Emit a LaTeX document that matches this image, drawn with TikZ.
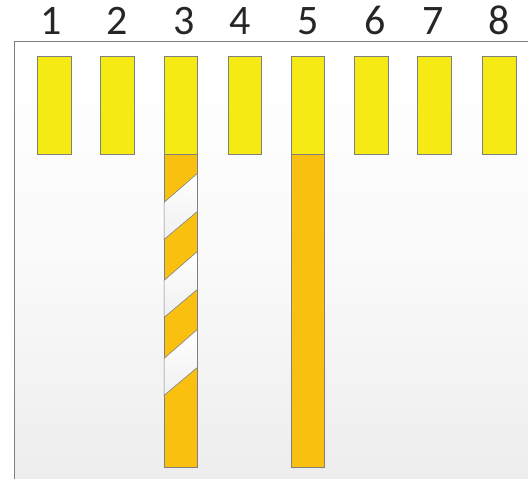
\documentclass[tikz,border=0pt]{standalone}
\usepackage{fontspec}
\usetikzlibrary{positioning,calc}
\newfontfamily\numfont{Carlito}
\definecolor{baryellow}{HTML}{F5EA14}
\definecolor{barorange}{HTML}{FAC010}
\definecolor{edgegray}{HTML}{7F7F7F}

\begin{document}
\begin{tikzpicture}[x=1pt,y=-1pt,
  bar/.style={draw=edgegray,line width=0.8pt,fill=baryellow,minimum width=33.3pt,minimum height=97.7pt,inner sep=0pt,outer sep=0pt},
  longbar/.style={bar,fill=barorange,minimum height=313.3pt},
  num/.style={font=\numfont\fontsize{42}{42}\selectfont,text=black!85,inner sep=0pt},
  stripe/.style={draw=edgegray,line width=0.6pt,top color=white,bottom color=black!6}]
  \useasboundingbox (0,0) rectangle (528,479);
  \fill[top color=white,bottom color=black!7,middle color=black!2] (14,41) rectangle (528,479);
  \draw[edgegray,line width=1pt] (528,41)--(14,41)--(14,479);
  \foreach \i/\x/\dx in {1/54.3/-3,2/117.5/0,3/180.8/3.5,4/245/-4.5,5/308/0,6/371.5/4,7/434.5/-1.5,8/499.5/-0.5}{
    \node[bar] (b\i) at (\x,105.5) {};
    \node[num,above=22pt of b\i,xshift=\dx pt] (n\i) {\i};
  }
  \node[longbar,below=0pt of b3] (o3) {}; \node[longbar,below=0pt of b5] (o5) {};
  \foreach \k in {0,78,156}{
    \draw[stripe] ($(o3.north west)+(0,48+\k)$)--($(o3.north east)+(0,19+\k)$)--($(o3.north east)+(0,57+\k)$)--($(o3.north west)+(0,85+\k)$)--cycle;
  }
\end{tikzpicture}
\end{document}
